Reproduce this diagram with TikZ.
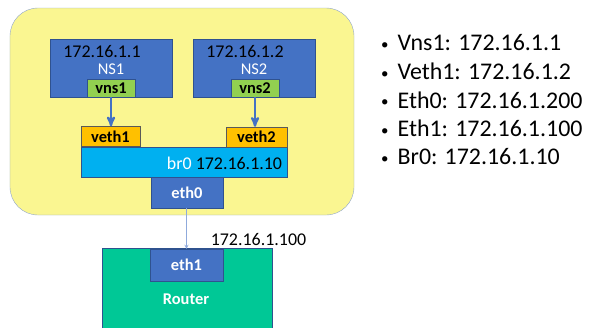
\documentclass[tikz,border=0pt]{standalone}
\usepackage{fontspec}
\setmainfont{Carlito}
\usepackage{tikz}
\usetikzlibrary{arrows,shapes}
\definecolor{host_yell}{RGB}{250,246,145}
\definecolor{host_edge}{RGB}{143,165,205}
\definecolor{ns_blue}{RGB}{68,114,196}
\definecolor{edge_blue}{RGB}{47,82,143}
\definecolor{if_green}{RGB}{146,208,80}
\definecolor{if_orange}{RGB}{255,192,0}
\definecolor{br_blue}{RGB}{0,176,240}
\definecolor{rt_green}{RGB}{0,200,150}
\definecolor{wire_blue}{RGB}{143,170,220}
\newcommand\ipfont{\fontsize{18}{20}\selectfont}
\newcommand\lblfont{\fontsize{16.5}{18}\selectfont\bfseries}
\newcommand\dotitem{{\fontsize{15}{15}\selectfont\raisebox{1.5bp}{\textbullet}}}

\begin{document}
\begin{tikzpicture}[x=1bp,y=-1bp,>=stealth']
    \tikzstyle{box}=[draw=edge_blue, rectangle, inner sep=0pt, text=black]
    \tikzstyle{nsbox}=[style=box, fill=ns_blue, minimum width=122bp, minimum height=58bp]
    \tikzstyle{vnsbox}=[style=box, fill=if_green, minimum width=48bp, minimum height=18bp, font=\lblfont]
    \tikzstyle{vethbox}=[style=box, fill=if_orange, draw=gray!70!black, minimum height=20bp, font=\lblfont]
    \tikzstyle{ethbox}=[style=box, fill=ns_blue, text=white, font=\lblfont]
    \tikzstyle{iplabel}=[text=black, font=\ipfont, inner sep=0pt]
    \tikzstyle{nslabel}=[text=white, font=\fontsize{16.5}{18}\selectfont, inner sep=0pt]
    \tikzstyle{bullet}=[text=black, font=\fontsize{24}{28}\selectfont, anchor=west, inner sep=0pt]

    \useasboundingbox (0,0) rectangle (601,327);
    \clip (0,0) rectangle (601,327);

    % host
    \node[draw=host_edge, fill=host_yell, rounded corners=28bp, minimum width=344bp, minimum height=207bp] (host) at (182,111.5) {};

    % namespaces
    \node[nsbox]  (ns1) at (111,68) {};
    \node[nsbox]  (ns2) at (254,68) {};
    \node[iplabel] (ns1ip) at (102,51.5) {172.16.1.1};
    \node[nslabel] (ns1name) at (111,69) {NS1};
    \node[iplabel] (ns2ip) at (245,51.5) {172.16.1.2};
    \node[nslabel] (ns2name) at (254,69) {NS2};
    \node[vnsbox] (vns1) at (111,88) {vns1};
    \node[vnsbox] (vns2) at (255,88) {vns2};

    % bridge
    \node[box, fill=br_blue, minimum width=206bp, minimum height=30bp] (br0) at (184,162) {};
    \node[iplabel] (br0ip) at (224.5,163) {\textcolor{white}{br0} 172.16.1.10};
    \node[vethbox, minimum width=59bp] (veth1) at (110.5,136.5) {veth1};
    \node[vethbox, minimum width=61bp] (veth2) at (256.5,137) {veth2};
    \node[ethbox, minimum width=72bp, minimum height=31bp] (eth0) at (187,192.5) {eth0};

    % router
    \node[box, fill=rt_green, minimum width=170bp, minimum height=100bp] (router) at (187,298) {};
    \node[ethbox, minimum width=73bp, minimum height=32bp] (eth1) at (186.5,265) {eth1};
    \node[text=white, font=\lblfont, inner sep=0pt] (rtname) at (186,299) {Router};
    \node[iplabel] (eth1ip) at (258.5,239.5) {172.16.1.100};

    \path[->]
     (vns1) edge[ns_blue, line width=2.2bp] (vns1.south |- veth1.north)
     (vns2) edge[ns_blue, line width=2.2bp] (vns2.south |- veth2.north)
     (eth0.south -| eth1.north) edge[wire_blue, line width=0.8bp, >=stealth] (eth1.north);

    % addresses
    \foreach \y/\txt in {43/{Vns1: 172.16.1.1}, 71.5/{Veth1: 172.16.1.2}, 100/{Eth0: 172.16.1.200},
                         128.5/{Eth1: 172.16.1.100}, 157/{Br0: 172.16.1.10}}
      \node[bullet] at (381,\y) {\dotitem\hspace{9bp}\txt};
\end{tikzpicture}
\end{document}
